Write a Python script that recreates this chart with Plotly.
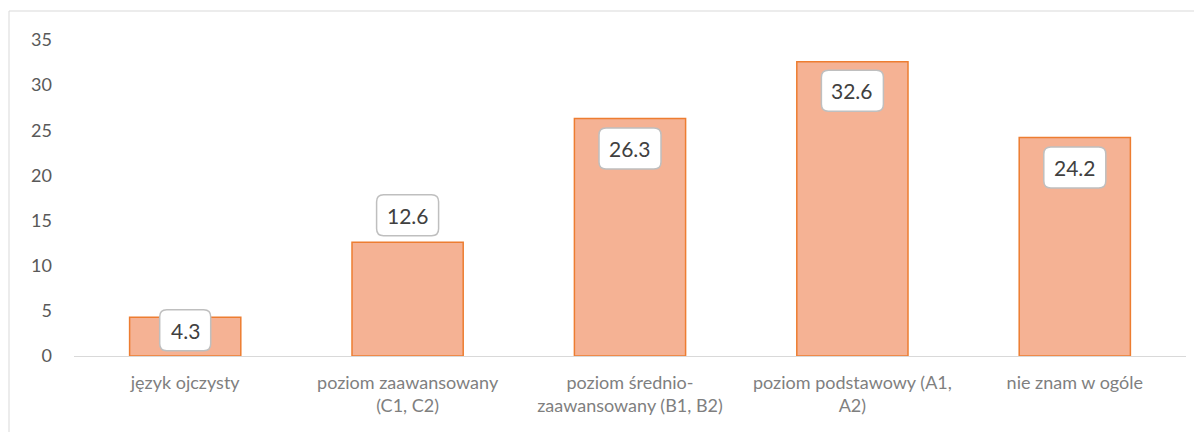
import plotly.graph_objects as go

categories = [
    "język ojczysty",
    "poziom zaawansowany<br>(C1, C2)",
    "poziom średnio-<br>zaawansowany (B1, B2)",
    "poziom podstawowy (A1,<br>A2)",
    "nie znam w ogóle",
]
values = [4.3, 12.6, 26.3, 32.6, 24.2]
y_ticks = [0, 5, 10, 15, 20, 25, 30, 35]

# label vertical offsets (px) – styling only
label_shift = [-13, 27, -30, -29, -30]

W, H = 1194, 424
ml, mr, mt, mb = 66, 16, 32, 76
FONT = "Lato, Open Sans, sans-serif"

fig = go.Figure()
fig.add_trace(go.Bar(
    x=categories, y=values,
    marker=dict(color="#F5B294", line=dict(color="#ED7D31", width=1.5)),
    width=0.5,
    hoverinfo="skip",
))


def rounded_box(cx, cy, w, h, r):
    x0, x1 = cx - w / 2, cx + w / 2
    y0, y1 = cy - h / 2, cy + h / 2
    return (f"M {x0 + r} {y0} L {x1 - r} {y0} Q {x1} {y0} {x1} {y0 + r} "
            f"L {x1} {y1 - r} Q {x1} {y1} {x1 - r} {y1} L {x0 + r} {y1} "
            f"Q {x0} {y1} {x0} {y1 - r} L {x0} {y0 + r} Q {x0} {y0} {x0 + r} {y0} Z")


for i, (c, v, s) in enumerate(zip(categories, values, label_shift)):
    bw = 62 if v >= 10 else 51
    fig.add_shape(
        type="path", xref="x", yref="y",
        xsizemode="pixel", ysizemode="pixel", xanchor=i, yanchor=v,
        path=rounded_box(0, s, bw, 41, 7),
        fillcolor="white", line=dict(color="#BFBFBF", width=1.5), layer="above",
    )
    fig.add_annotation(
        x=c, y=v, yshift=s, text=f"{v}", showarrow=False,
        font=dict(family=FONT, size=21, color="#404040"),
        xanchor="center", yanchor="middle",
    )

pw = W - ml - mr
ph = H - mt - mb
fx0 = (1 - ml) / pw
fy0 = (H - mb - 3) / ph
fig.add_shape(
    type="path", xref="paper", yref="paper",
    path=f"M {fx0} -0.5 L {fx0} {fy0} L 1.1 {fy0}",
    line=dict(color="#D9D9D9", width=1),
)

fig.update_layout(
    width=W, height=H,
    margin=dict(l=ml, r=mr, t=mt, b=mb),
    paper_bgcolor="white", plot_bgcolor="white",
    showlegend=False,
    font=dict(family=FONT),
    xaxis=dict(
        showgrid=False, showline=True, linecolor="#D9D9D9", linewidth=1,
        ticks="", ticklabelstandoff=10, tickfont=dict(size=18, color="#7F7F7F"),
    ),
    yaxis=dict(
        range=[0, 35], tickvals=y_ticks, showgrid=False, zeroline=False,
        showline=False, ticks="", ticklabelstandoff=21,
        tickfont=dict(size=18, color="#595959"),
    ),
)

fig.write_html("out.html")
